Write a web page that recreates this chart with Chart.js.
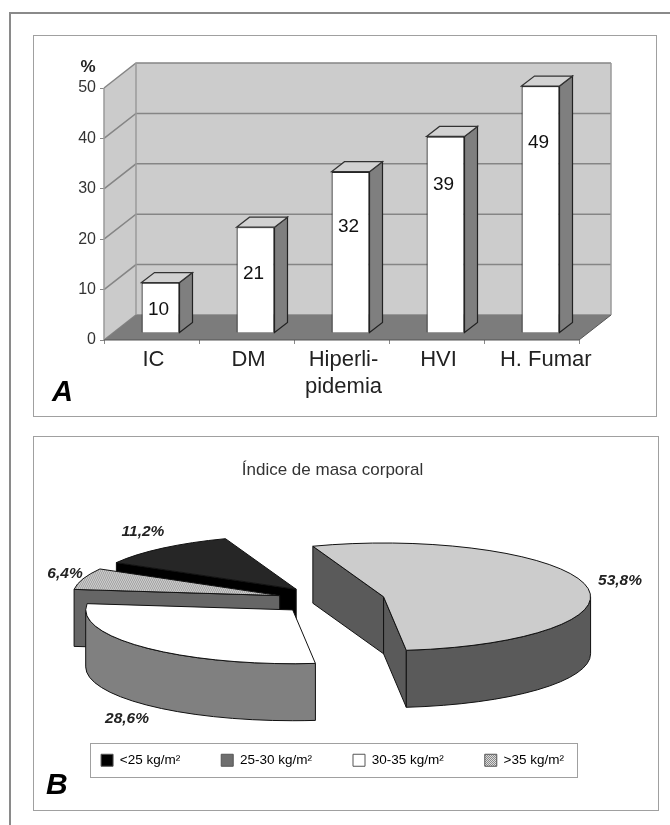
<!DOCTYPE html>
<html>
<head>
<meta charset="utf-8">
<title>Chart</title>
<script src="https://cdn.jsdelivr.net/npm/chart.js@4"></script>
<style>
  html, body { margin: 0; background: #fff; }
  body { position: relative; width: 670px; height: 825px; overflow: hidden; }
  canvas { position: absolute; left: 0; top: 0; }
  .frame { position: absolute; box-sizing: border-box; border: 1.5px solid #a0a0a0; }
  #outerTop { position: absolute; left: 9px; top: 12px; width: 661px; height: 2px; background: #8a8a8a; }
  #outerLeft { position: absolute; left: 9px; top: 12px; width: 2px; height: 813px; background: #8a8a8a; }
  #panelA { left: 33px; top: 35px; width: 624px; height: 382px; }
  #panelB { left: 33px; top: 436px; width: 626px; height: 375px; }
  #legendBox { left: 90px; top: 743px; width: 488px; height: 35px; }
</style>
</head>
<body>
<div id="outerTop"></div>
<div id="outerLeft"></div>
<div id="panelA" class="frame"></div>
<div id="panelB" class="frame"></div>
<div id="legendBox" class="frame"></div>
<canvas id="barChart" width="670" height="825"></canvas>
<canvas id="pieChart" width="670" height="825"></canvas>

<script>
const categories = ["IC", "DM", ["Hiperli-", "pidemia"], "HVI", "\u00a0\u00a0\u00a0\u00a0H. Fumar"];
const barValues = [10, 21, 32, 39, 49];
const yTicks = [0, 10, 20, 30, 40, 50];

const bmiLabels = ["<25 kg/m²", "25-30 kg/m²", "30-35 kg/m²", ">35 kg/m²"];
const bmiValues = [11.2, 53.8, 28.6, 6.4];
const bmiText = ["11,2%", "53,8%", "28,6%", "6,4%"];

const FONT = '"Liberation Sans", Arial, sans-serif';

// box depth of the bar chart
const wallX = 32, wallY = 25;
const barShiftX = 9, barShiftY = 7;
const barDepthX = 13, barDepthY = 10;
const valueDrop = [27, 47, 55, 48, 57];

function poly(ctx, pts, fill, stroke, width) {
  ctx.beginPath();
  pts.forEach((p, i) => (i ? ctx.lineTo(p[0], p[1]) : ctx.moveTo(p[0], p[1])));
  ctx.closePath();
  if (fill) { ctx.fillStyle = fill; ctx.fill(); }
  if (stroke) { ctx.strokeStyle = stroke; ctx.lineWidth = width || 1; ctx.stroke(); }
}

const box3d = {
  id: "box3d",
  beforeDatasetsDraw(chart) {
    const { ctx, chartArea: a, scales } = chart;
    const l = a.left, r = a.right, t = a.top, b = a.bottom;
    poly(ctx, [[l, t], [l + wallX, t - wallY], [l + wallX, b - wallY], [l, b]], "#cbcbcb");
    poly(ctx, [[l + wallX, t - wallY], [r + wallX, t - wallY], [r + wallX, b - wallY], [l + wallX, b - wallY]], "#cccccc");
    ctx.strokeStyle = "#858585";
    ctx.lineWidth = 1.5;
    yTicks.forEach((v) => {
      const y = scales.y.getPixelForValue(v);
      ctx.beginPath();
      ctx.moveTo(l, y);
      ctx.lineTo(l + wallX, y - wallY);
      ctx.lineTo(r + wallX, y - wallY);
      ctx.stroke();
    });
    ctx.strokeStyle = "#9a9a9a";
    ctx.beginPath();
    ctx.moveTo(l, b);
    ctx.lineTo(l, t);
    ctx.moveTo(l + wallX, t - wallY);
    ctx.lineTo(l + wallX, b - wallY);
    ctx.moveTo(r + wallX, t - wallY);
    ctx.lineTo(r + wallX, b - wallY);
    ctx.stroke();
    poly(ctx, [[l, b], [l + wallX, b - wallY], [r + wallX, b - wallY], [r, b]], "#7c7c7c");
    ctx.strokeStyle = "#555";
    ctx.lineWidth = 1;
    ctx.beginPath();
    ctx.moveTo(l, b);
    ctx.lineTo(r, b);
    ctx.lineTo(r + wallX, b - wallY);
    ctx.stroke();
  },
  beforeDatasetDraw(chart) {
    chart.ctx.save();
    chart.ctx.translate(barShiftX, -barShiftY);
  },
  afterDatasetDraw(chart) {
    const ctx = chart.ctx;
    chart.getDatasetMeta(0).data.forEach((bar) => {
      const x1 = bar.x - bar.width / 2, x2 = bar.x + bar.width / 2;
      poly(ctx, [[x2, bar.y], [x2 + barDepthX, bar.y - barDepthY], [x2 + barDepthX, bar.base - barDepthY], [x2, bar.base]], "#7f7f7f", "#222", 1.2);
      poly(ctx, [[x1, bar.y], [x1 + barDepthX, bar.y - barDepthY], [x2 + barDepthX, bar.y - barDepthY], [x2, bar.y]], "#d2d2d2", "#333", 1.2);
    });
    ctx.restore();
  },
  afterDatasetsDraw(chart) {
    const ctx = chart.ctx;
    ctx.fillStyle = "#111";
    ctx.font = "19px " + FONT;
    ctx.textAlign = "center";
    ctx.textBaseline = "middle";
    chart.getDatasetMeta(0).data.forEach((bar, i) => {
      ctx.fillText(String(barValues[i]), bar.x + barShiftX - 2, bar.y - barShiftY + valueDrop[i]);
    });
    ctx.font = "bold 17px " + FONT;
    ctx.fillStyle = "#222";
    ctx.fillText("%", 88, 67);
    ctx.textAlign = "left";
    ctx.textBaseline = "alphabetic";
    ctx.fillStyle = "#000";
    ctx.font = "italic bold 29px " + FONT;
    ctx.fillText("A", 52, 401);
  },
};

new Chart(document.getElementById("barChart"), {
  type: "bar",
  plugins: [box3d],
  data: {
    labels: categories,
    datasets: [{
      data: barValues,
      backgroundColor: "#ffffff",
      borderColor: "#222",
      borderWidth: 1.2,
      categoryPercentage: 1,
      barPercentage: 0.4,
    }],
  },
  options: {
    responsive: false,
    animation: false,
    layout: { autoPadding: false, padding: { left: 64, right: 91, top: 88, bottom: 415 } },
    plugins: { legend: { display: false }, tooltip: { enabled: false } },
    scales: {
      x: {
        afterFit: (s) => { s.height = 70; },
        grid: { drawOnChartArea: false, tickLength: 4, color: "#888" },
        border: { display: false },
        ticks: {
          color: "#222",
          maxRotation: 0,
          autoSkip: false,
          padding: 3,
          labelOffset: 2,
          font: { family: FONT, size: 22, lineHeight: 1.2 },
        },
      },
      y: {
        min: 0,
        max: 50,
        afterFit: (s) => { s.width = 40; },
        afterBuildTicks: (s) => { s.ticks = yTicks.map((v) => ({ value: v })); },
        grid: { drawOnChartArea: false, tickLength: 4, color: "#888" },
        border: { display: false },
        ticks: { color: "#333", padding: 4, font: { family: FONT, size: 16 } },
      },
    },
  },
});

function dots(h, light, dark) {
  const c = document.createElement("canvas");
  c.width = 2;
  c.height = 2 * h;
  const g = c.getContext("2d");
  g.fillStyle = light;
  g.fillRect(0, 0, 2, 2 * h);
  g.fillStyle = dark;
  g.fillRect(0, 0, 1, h);
  g.fillRect(1, h, 1, h);
  return g.createPattern(c, "repeat");
}

// pie seen in perspective: flattened circle plus a wall under it
const pieX = 331, pieY = 600;
const squash = 0.26, pieDepth = 57, explode = 54;
const topColors = ["#262626", "#cccccc", "#ffffff", dots(8, "#d8d8d8", "#9a9a9a")];
const wallColors = ["#000000", "#5a5a5a", "#808080", "#666666"];
const swatchColors = ["#000000", "#6e6e6e", "#ffffff", dots(1, "#dddddd", "#888888")];
const paintOrder = [1, 0, 3, 2];
const bmiTextAt = [[143, 532], [620, 581], [127, 719], [65, 574]];

function drawSlice(chart, i) {
  const ctx = chart.ctx;
  const arc = chart.getDatasetMeta(0).data[i];
  const R = arc.outerRadius, a1 = arc.startAngle, a2 = arc.endAngle;
  const mid = (a1 + a2) / 2;
  const cx = pieX + Math.cos(mid) * explode;
  const cy = pieY + Math.sin(mid) * explode * squash;
  const rimX = (a) => cx + R * Math.cos(a);
  const rimY = (a) => cy + R * squash * Math.sin(a);
  const face = (a) => poly(ctx, [[cx, cy], [rimX(a), rimY(a)], [rimX(a), rimY(a) + pieDepth], [cx, cy + pieDepth]], wallColors[i], "#111");

  if (-Math.cos(a1) > 0) face(a1);
  if (Math.cos(a2) > 0) face(a2);

  [[0, Math.PI], [2 * Math.PI, 3 * Math.PI]].forEach(([lo, hi]) => {
    const s = Math.max(a1, lo), e = Math.min(a2, hi);
    if (e <= s) return;
    ctx.beginPath();
    ctx.ellipse(cx, cy, R, R * squash, 0, s, e);
    ctx.ellipse(cx, cy + pieDepth, R, R * squash, 0, e, s, true);
    ctx.closePath();
    ctx.fillStyle = wallColors[i];
    ctx.fill();
    ctx.strokeStyle = "#111";
    ctx.lineWidth = 1;
    ctx.stroke();
  });

  ctx.save();
  ctx.translate(cx, cy);
  ctx.scale(1, squash);
  ctx.translate(-arc.x, -arc.y);
  arc.draw(ctx, chart.chartArea);
  ctx.restore();

  ctx.beginPath();
  ctx.moveTo(cx, cy);
  ctx.ellipse(cx, cy, R, R * squash, 0, a1, a2);
  ctx.closePath();
  ctx.strokeStyle = "#111";
  ctx.lineWidth = 1;
  ctx.stroke();
}

const pie3d = {
  id: "pie3d",
  beforeDatasetDraw(chart) {
    paintOrder.forEach((i) => drawSlice(chart, i));
    return false;
  },
  afterDatasetsDraw(chart) {
    const ctx = chart.ctx;
    ctx.fillStyle = "#222";
    ctx.font = "italic bold 15.5px " + FONT;
    ctx.textAlign = "center";
    ctx.textBaseline = "middle";
    bmiText.forEach((t, i) => ctx.fillText(t, bmiTextAt[i][0], bmiTextAt[i][1]));
    ctx.textAlign = "left";
    ctx.textBaseline = "alphabetic";
    ctx.fillStyle = "#000";
    ctx.font = "italic bold 30px " + FONT;
    ctx.fillText("B", 46, 794);
  },
};

new Chart(document.getElementById("pieChart"), {
  type: "pie",
  plugins: [pie3d],
  data: {
    labels: bmiLabels,
    datasets: [{ data: bmiValues, backgroundColor: topColors, borderWidth: 0 }],
  },
  options: {
    responsive: false,
    animation: false,
    radius: 207,
    rotation: 299.7,
    layout: { padding: { left: 0, right: 5, top: 0, bottom: 48 } },
    plugins: {
      tooltip: { enabled: false },
      title: {
        display: true,
        text: "Índice de masa corporal",
        color: "#333",
        font: { family: FONT, size: 17, weight: "normal" },
        padding: { top: 460, bottom: 10 },
      },
      legend: {
        position: "bottom",
        labels: {
          boxWidth: 12,
          boxHeight: 12,
          padding: 41,
          color: "#444",
          font: { family: FONT, size: 13.5 },
          generateLabels: () => bmiLabels.map((text, i) => ({
            text,
            fillStyle: swatchColors[i],
            strokeStyle: "#555",
            lineWidth: 1,
            datasetIndex: 0,
            index: i,
          })),
        },
      },
    },
  },
});
</script>
</body>
</html>
